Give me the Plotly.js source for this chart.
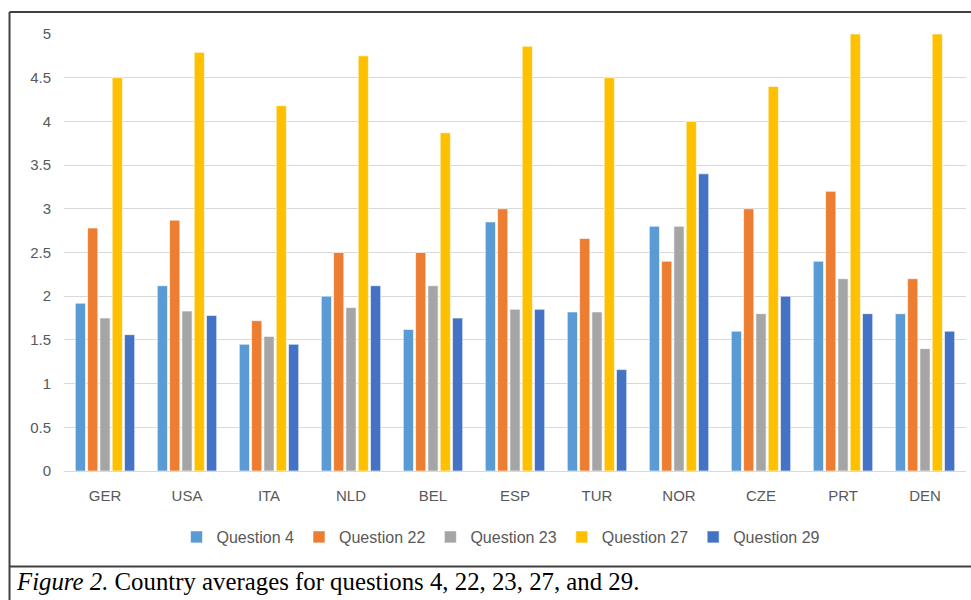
<!DOCTYPE html>
<html>
<head>
<meta charset="utf-8">
<script src="https://cdn.plot.ly/plotly-3.0.1.min.js"></script>
<style>
  html, body { margin: 0; padding: 0; background: #ffffff; }
  #chart { width: 971px; height: 600px; }
</style>
</head>
<body>
<div id="chart"></div>
<script>
const countries = ["GER", "USA", "ITA", "NLD", "BEL", "ESP", "TUR", "NOR", "CZE", "PRT", "DEN"];
const seriesNames = ["Question 4", "Question 22", "Question 23", "Question 27", "Question 29"];
const q4  = [1.92, 2.12, 1.45, 2.00, 1.62, 2.85, 1.82, 2.80, 1.60, 2.40, 1.80];
const q22 = [2.78, 2.87, 1.72, 2.50, 2.50, 3.00, 2.66, 2.40, 3.00, 3.20, 2.20];
const q23 = [1.75, 1.83, 1.54, 1.87, 2.12, 1.85, 1.82, 2.80, 1.80, 2.20, 1.40];
const q27 = [4.50, 4.79, 4.18, 4.75, 3.87, 4.86, 4.50, 4.00, 4.40, 5.00, 5.00];
const q29 = [1.56, 1.78, 1.45, 2.12, 1.75, 1.85, 1.16, 3.40, 2.00, 1.80, 1.60];
const yTicks = [0, 0.5, 1, 1.5, 2, 2.5, 3, 3.5, 4, 4.5, 5];
const yTickText = ["0", "0.5", "1", "1.5", "2", "2.5", "3", "3.5", "4", "4.5", "5"];
const caption = "<i>Figure 2.</i> Country averages for questions 4, 22, 23, 27, and 29.";

const colors = ["#5B9BD5", "#ED7D31", "#A5A5A5", "#FFC000", "#4472C4"];
const allSeries = [q4, q22, q23, q27, q29];

const traces = allSeries.map((vals, i) => ({
  type: "bar",
  name: seriesNames[i],
  x: countries,
  y: vals,
  marker: { color: colors[i], line: { color: "rgba(255,255,255,0.6)", width: 1 } },
  hoverinfo: "x+y+name"
}));

const tickFont = { family: "Liberation Sans Narrow, Arial Narrow, Liberation Sans, sans-serif", size: 15, color: "#595959" };

const layout = {
  width: 971,
  height: 600,
  margin: { l: 64, r: 5, t: 34, b: 129 },
  paper_bgcolor: "#ffffff",
  plot_bgcolor: "#ffffff",
  barmode: "group",
  bargap: 0.25,
  bargroupgap: 0.17,
  showlegend: true,
  legend: {
    orientation: "h",
    x: 0.4845,
    xanchor: "center",
    y: -0.151,
    yanchor: "middle",
    font: { family: "Liberation Sans Narrow, Arial Narrow, Liberation Sans, sans-serif", size: 16, color: "#595959" },
    itemwidth: 30,
    traceorder: "normal"
  },
  xaxis: {
    type: "category",
    showgrid: false,
    zeroline: false,
    showline: false,
    ticks: "",
    tickfont: tickFont,
    ticklabelstandoff: 14,
    fixedrange: true
  },
  yaxis: {
    range: [0, 5],
    tickvals: yTicks,
    ticktext: yTickText,
    showgrid: true,
    gridcolor: "#d9d9d9",
    gridwidth: 1,
    zeroline: true,
    zerolinecolor: "#d9d9d9",
    zerolinewidth: 1,
    showline: false,
    ticks: "",
    tickfont: tickFont,
    ticklabelstandoff: 12,
    fixedrange: true
  },
  shapes: [
    { type: "line", xref: "paper", yref: "paper", x0: -0.0604, x1: 1.01, y0: 1.0503, y1: 1.0503, line: { color: "#404040", width: 2 } },
    { type: "line", xref: "paper", yref: "paper", x0: -0.0604, x1: -0.0604, y0: 1.0503, y1: -0.30, line: { color: "#404040", width: 2 } },
    { type: "line", xref: "paper", yref: "paper", x0: -0.0604, x1: 1.01, y0: -0.2185, y1: -0.2185, line: { color: "#404040", width: 2 } }
  ],
  annotations: [
    {
      xref: "paper", yref: "paper",
      x: -0.0554, y: -0.254,
      xanchor: "left", yanchor: "middle",
      text: caption,
      showarrow: false,
      font: { family: "Liberation Serif, Times New Roman, serif", size: 24.8, color: "#000000" }
    }
  ]
};

Plotly.newPlot("chart", traces, layout, { displayModeBar: false, staticPlot: true });
</script>
</body>
</html>
